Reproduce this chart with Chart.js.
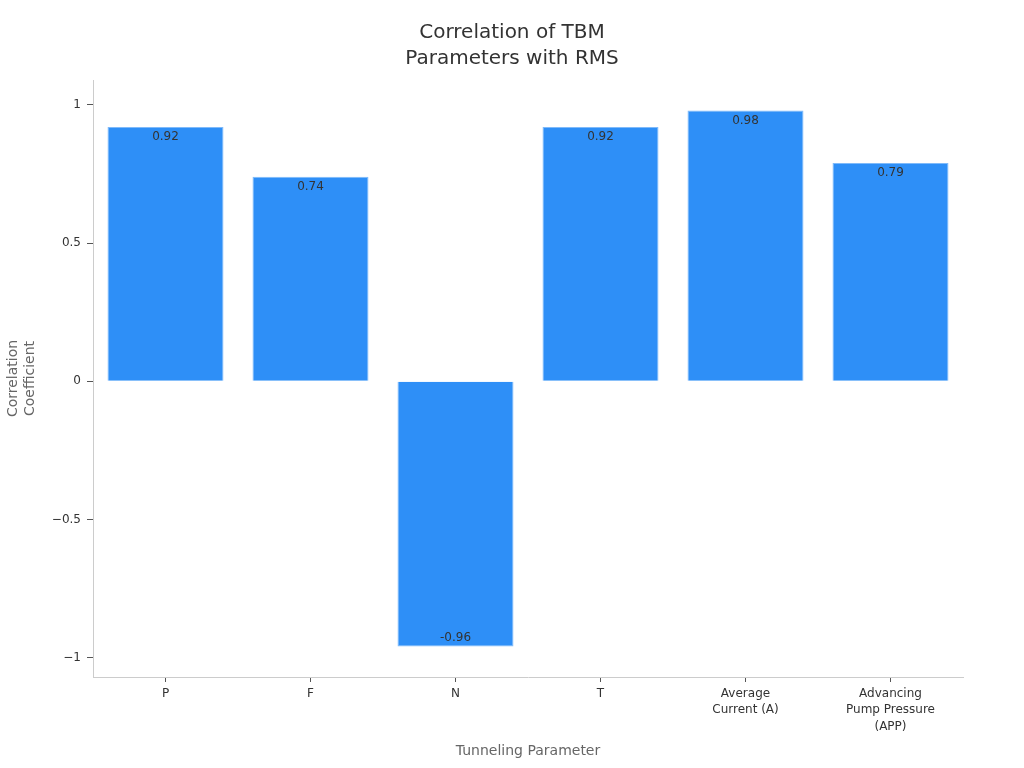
<!DOCTYPE html>
<html>
<head>
<meta charset="utf-8">
<script src="https://cdn.jsdelivr.net/npm/chart.js@4"></script>
<style>
  html, body { margin: 0; padding: 0; background: #fff; }
  #wrap { width: 1024px; height: 768px; }
</style>
</head>
<body>
<div id="wrap"><canvas id="chart" width="1024" height="768"></canvas></div>
<script>
const categories = ['P', 'F', 'N', 'T', ['Average', 'Current (A)'], ['Advancing', 'Pump Pressure', '(APP)']];
const correlations = [0.92, 0.74, -0.96, 0.92, 0.98, 0.79];
const yTicks = [-1, -0.5, 0, 0.5, 1];

const FONT = "'DejaVu Sans', sans-serif";

// value labels drawn inside the bar ends
const barLabels = {
    id: 'barLabels',
    afterDatasetsDraw(chart) {
        const ctx = chart.ctx;
        const meta = chart.getDatasetMeta(0);
        ctx.save();
        ctx.font = '12px ' + FONT;
        ctx.fillStyle = '#333';
        ctx.textAlign = 'center';
        meta.data.forEach((bar, i) => {
            const v = correlations[i];
            if (v >= 0) {
                ctx.textBaseline = 'top';
                ctx.fillText(v.toFixed(2), bar.x, bar.y + 4);
            } else {
                ctx.textBaseline = 'bottom';
                ctx.fillText(v.toFixed(2), bar.x, bar.y - 3);
            }
        });
        ctx.restore();
    }
};

new Chart(document.getElementById('chart'), {
    type: 'bar',
    data: {
        labels: categories,
        datasets: [{
            data: correlations,
            backgroundColor: '#2e8ff7',
            borderColor: '#7fbafa',
            borderWidth: 1,
            barPercentage: 0.8,
            categoryPercentage: 1
        }]
    },
    options: {
        responsive: false,
        animation: false,
        layout: { padding: 0 },
        plugins: {
            legend: { display: false },
            tooltip: { enabled: false },
            title: {
                display: true,
                text: ['Correlation of TBM', 'Parameters with RMS'],
                color: '#333',
                font: { family: FONT, size: 20, weight: 'normal', lineHeight: 1.3 },
                padding: { top: 20, bottom: 8 }
            }
        },
        scales: {
            x: {
                grid: { display: true, drawOnChartArea: false, offset: false, tickLength: 5, tickColor: '#555' },
                border: { color: '#ccc' },
                ticks: { color: '#333', font: { family: FONT, size: 12, lineHeight: 1.35 }, padding: 4, maxRotation: 0, autoSkip: false },
                title: {
                    display: true,
                    text: 'Tunneling Parameter',
                    color: '#666',
                    font: { family: FONT, size: 14 },
                    padding: { top: 4, bottom: 8 }
                },
                afterFit: s => { s.height = 91; }
            },
            y: {
                min: -1.07,
                max: 1.09,
                afterBuildTicks: s => { s.ticks = yTicks.map(v => ({ value: v })); },
                grid: { display: true, drawOnChartArea: false, tickLength: 6, tickColor: '#555' },
                border: { color: '#ccc' },
                ticks: {
                    color: '#333',
                    font: { family: FONT, size: 12 },
                    padding: 6,
                    callback: v => (v < 0 ? '\u2212' + Math.abs(v) : String(v))
                },
                title: {
                    display: true,
                    text: ['Correlation', 'Coefficient'],
                    color: '#666',
                    font: { family: FONT, size: 14, lineHeight: 1.2 },
                    padding: { top: 5, bottom: 0 }
                },
                afterFit: s => { s.width = 93; }
            },
            // empty right-hand spacer so the title stays centred on the page
            spacer: {
                type: 'linear',
                position: 'right',
                display: true,
                grid: { display: false },
                border: { display: false },
                ticks: { display: false },
                afterFit: s => { s.width = 61; }
            }
        }
    },
    plugins: [barLabels]
});
</script>
</body>
</html>
